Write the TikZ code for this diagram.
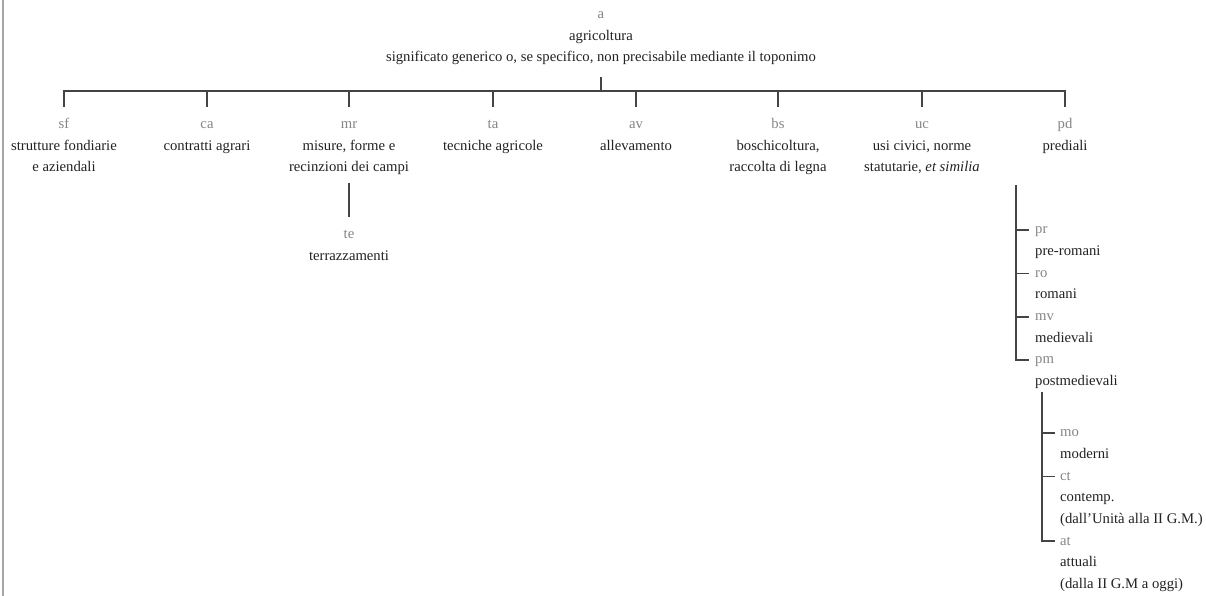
\documentclass[tikz,border=0pt]{standalone}
\usepackage{fontspec}
\setmainfont{Liberation Serif}
\usetikzlibrary{positioning}
\definecolor{codegray}{HTML}{858585}
\definecolor{textgray}{HTML}{222222}
\definecolor{linegray}{HTML}{444444}
\newcommand{\cd}[1]{\textcolor{codegray}{#1}}

\begin{document}
\begin{tikzpicture}[x=1pt,y=1pt,nodes={inner sep=0pt,text=textgray,font=\fontsize{14.7}{21.5}\selectfont}, cat/.style={anchor=north}, item/.style={anchor=north west}, link/.style={draw=linegray,line width=1.8pt}]
\useasboundingbox (0,0) rectangle (1206,-596);
\draw[black!35,line width=2.5pt] (3,0) -- (3,-596);
% root
\node[cat] (a) at (601,-3.5) {\begin{tabular}{c} \cd{a} \\ agricoltura \\ significato generico o, se specifico, non precisabile mediante il toponimo \end{tabular}};
% first level
\node[cat] (sf) at (64,-113.5) {\begin{tabular}{c} \cd{sf} \\ strutture fondiarie \\ e aziendali \end{tabular}};
\node[cat] (ca) at (207,-113.5) {\begin{tabular}{c} \cd{ca} \\ contratti agrari \end{tabular}};
\node[cat] (mr) at (349,-113.5) {\begin{tabular}{c} \cd{mr} \\ misure, forme e \\ recinzioni dei campi \end{tabular}};
\node[cat] (ta) at (493,-113.5) {\begin{tabular}{c} \cd{ta} \\ tecniche agricole \end{tabular}};
\node[cat] (av) at (636,-113.5) {\begin{tabular}{c} \cd{av} \\ allevamento \end{tabular}};
\node[cat] (bs) at (778,-113.5) {\begin{tabular}{c} \cd{bs} \\ boschicoltura, \\ raccolta di legna \end{tabular}};
\node[cat] (uc) at (922,-113.5) {\begin{tabular}{c} \cd{uc} \\ usi civici, norme \\ statutarie, \textit{et similia} \end{tabular}};
\node[cat] (pd) at (1065,-113.5) {\begin{tabular}{c} \cd{pd} \\ prediali \end{tabular}};
\node[cat] (te) at (349,-223.5) {\begin{tabular}{c} \cd{te} \\ terrazzamenti \end{tabular}};
% prediali
\node[item] (pr) at (1035,-218.5) {\begin{tabular}{@{}l@{}} \cd{pr} \\ pre-romani \end{tabular}};
\node[item] (ro) at (pr.south west) {\begin{tabular}{@{}l@{}} \cd{ro} \\ romani \end{tabular}};
\node[item] (mv) at (ro.south west) {\begin{tabular}{@{}l@{}} \cd{mv} \\ medievali \end{tabular}};
\node[item] (pm) at (mv.south west) {\begin{tabular}{@{}l@{}} \cd{pm} \\ postmedievali \end{tabular}};
\node[item] (mo) at (1060,-421.5) {\begin{tabular}{@{}l@{}} \cd{mo} \\ moderni \end{tabular}};
\node[item] (ct) at (mo.south west) {\begin{tabular}{@{}l@{}} \cd{ct} \\ contemp. \\ (dall'Unità alla II G.M.) \end{tabular}};
\node[item] (atu) at (ct.south west) {\begin{tabular}{@{}l@{}} \cd{at} \\ attuali \\ (dalla II G.M a oggi) \end{tabular}};
% connectors
\coordinate (stem) at ([yshift=-9pt]a.south);
\coordinate (bar) at (601,-91);
\draw[link] (stem) -- (bar);
\draw[link] ([yshift=6.5pt]sf.north) |- (bar) -| ([yshift=6.5pt]pd.north);
\draw[link] ([yshift=6.5pt]ca.north) -- (ca.north |- bar);
\draw[link] ([yshift=6.5pt]mr.north) -- (mr.north |- bar);
\draw[link] ([yshift=6.5pt]ta.north) -- (ta.north |- bar);
\draw[link] ([yshift=6.5pt]av.north) -- (av.north |- bar);
\draw[link] ([yshift=6.5pt]bs.north) -- (bs.north |- bar);
\draw[link] ([yshift=6.5pt]uc.north) -- (uc.north |- bar);
\draw[link] ([yshift=-5pt]mr.south) -- ([yshift=6.5pt]te.north);
\coordinate (pdtop) at (1016,-185);
\draw[link] (pdtop) |- ([xshift=-6pt,yshift=-11.5pt]pm.north west);
\draw[link] ([xshift=-6pt,yshift=-11.5pt]pr.north west) -- ++(-13,0);
\draw[link] ([xshift=-6pt,yshift=-11.5pt]ro.north west) -- ++(-13,0);
\draw[link] ([xshift=-6pt,yshift=-11.5pt]mv.north west) -- ++(-13,0);
\coordinate (pmtop) at (1042,-392);
\draw[link] (pmtop) |- ([xshift=-5pt,yshift=-11.5pt]atu.north west);
\draw[link] ([xshift=-5pt,yshift=-11.5pt]mo.north west) -- ++(-13,0);
\draw[link] ([xshift=-5pt,yshift=-11.5pt]ct.north west) -- ++(-13,0);
\end{tikzpicture}
\end{document}
